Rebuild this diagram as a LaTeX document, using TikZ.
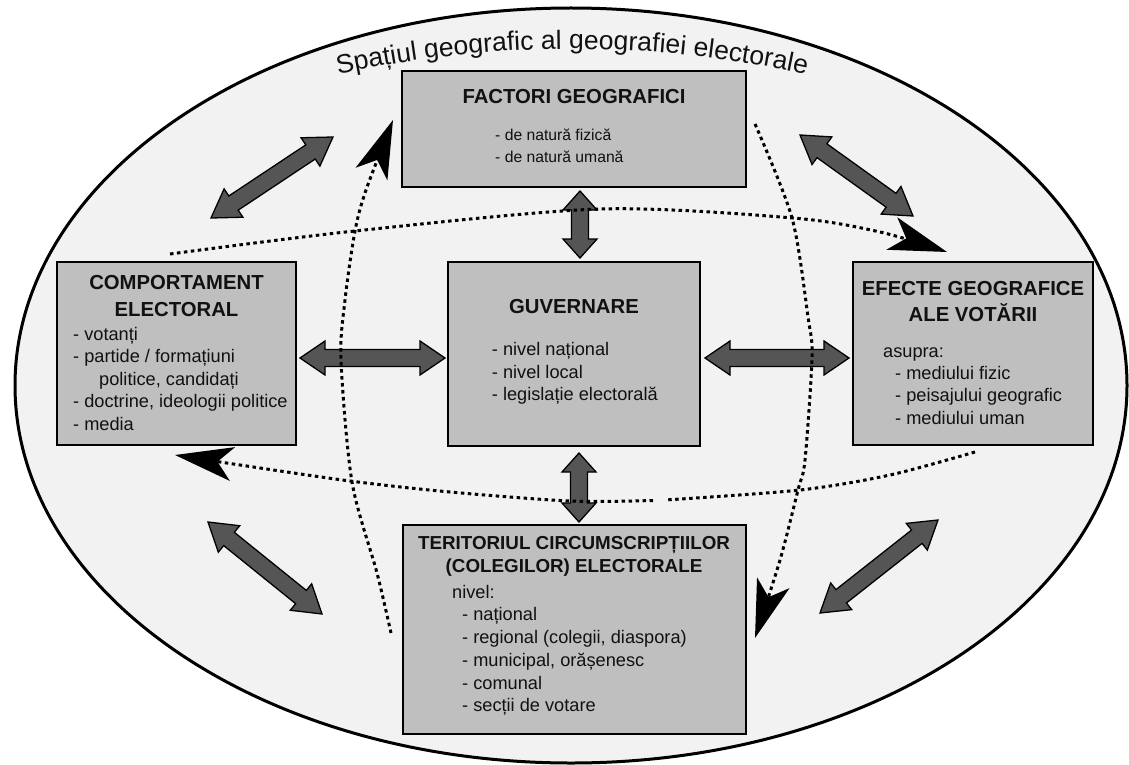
\documentclass[tikz,border=0pt]{standalone}
\usepackage{fontspec}
\setmainfont{Liberation Sans}
\usetikzlibrary{calc,arrows.meta,decorations.text}

\definecolor{ellfill}{HTML}{F2F2F2}
\definecolor{boxfill}{HTML}{BFBFBF}
\definecolor{arrfill}{HTML}{555555}
\definecolor{txt}{HTML}{111111}

\newcommand\dblarr[3]{%
  \filldraw[bigarrow] (#1) -- ($(#1)!#3!(#2)!17pt!90:(#2)$) -- ($(#1)!#3!(#2)!8.5pt!90:(#2)$)
   -- ($(#2)!#3!(#1)!8.5pt!-90:(#1)$) -- ($(#2)!#3!(#1)!17pt!-90:(#1)$) -- (#2)
   -- ($(#2)!#3!(#1)!17pt!90:(#1)$) -- ($(#2)!#3!(#1)!8.5pt!90:(#1)$)
   -- ($(#1)!#3!(#2)!8.5pt!-90:(#2)$) -- ($(#1)!#3!(#2)!17pt!-90:(#2)$) -- cycle;}

\begin{document}
\begin{tikzpicture}[x=1pt,y=-1pt,
  box/.style={draw=black, line width=1.8pt, fill=boxfill, inner sep=0pt, outer sep=0pt},
  ttl/.style={font=\bfseries\fontsize{20.3}{26.7}\selectfont, inner sep=0pt, align=center, text=txt},
  bdy/.style={font=\fontsize{18.2}{22.4}\selectfont, inner sep=0pt, align=left, text=txt},
  bigarrow/.style={fill=arrfill, draw=black, line width=1.3pt, line join=miter},
  dotline/.style={line width=3pt, dash pattern=on 3.5pt off 3.5pt, draw=black},
  headed/.style={-{Stealth[length=58pt,width=34pt,inset=15pt]}}
]
\useasboundingbox (0,0) rectangle (1129,765);
\fill[white] (0,0) rectangle (1129,765);
\draw[line width=3pt, fill=ellfill] (571,385.5) ellipse [x radius=556pt, y radius=377.5pt];

% boxes
\node[box, minimum width=344pt, minimum height=116pt] (fac) at (574,129) {};
\node[box, minimum width=239pt, minimum height=183pt] (com) at (176.5,353.5) {};
\node[box, minimum width=252pt, minimum height=184pt] (guv) at (574,354) {};
\node[box, minimum width=240pt, minimum height=183pt] (efe) at (973,353.5) {};
\node[box, minimum width=343pt, minimum height=209pt] (ter) at (574.5,629.5) {};

% texts (base anchor = baseline of the last line)
\node[ttl, anchor=base] (facT) at (574,104) {FACTORI GEOGRAFICI};
\node[bdy, anchor=base west, font=\fontsize{15.7}{22}\selectfont] (facB) at (495,162) {- de natură fizică\\- de natură umană};

\node[ttl, anchor=base] (comT) at (176.5,316) {COMPORTAMENT\\ELECTORAL};
\node[bdy, anchor=base west] (comB) at (73,430) {- votanți\\- partide / formațiuni\\\hspace*{26pt}politice, candidați\\- doctrine, ideologii politice\\- media};

\node[ttl, anchor=base] (guvT) at (574,313) {GUVERNARE};
\node[bdy, anchor=base west] (guvB) at (491.7,400.7) {- nivel național\\- nivel local\\- legislație electorală};

\node[ttl, anchor=base] (efeT) at (973,321.7) {EFECTE GEOGRAFICE\\ALE VOTĂRII};
\node[bdy, anchor=base west] (efeA) at (883,357) {asupra:};
\node[bdy, anchor=base west] (efeB) at (895,424) {- mediului fizic\\- peisajului geografic\\- mediului uman};

\node[ttl, anchor=base, font=\bfseries\fontsize{18.8}{23.7}\selectfont] (terT) at (574,572.7) {TERITORIUL CIRCUMSCRIPȚIILOR\\(COLEGILOR) ELECTORALE};
\node[bdy, anchor=base west] (terA) at (452,598) {nivel:};
\node[bdy, anchor=base west, font=\fontsize{18.2}{22.7}\selectfont] (terB) at (462,711.7) {- național\\- regional (colegii, diaspora)\\- municipal, orășenesc\\- comunal\\- secții de votare};

% double arrows
\coordinate (v1a) at (580,191); \coordinate (v1b) at (580,258);
\coordinate (v2a) at (579,453); \coordinate (v2b) at (579,522);
\coordinate (h1a) at (300,358); \coordinate (h1b) at (445,358);
\coordinate (h2a) at (705,358); \coordinate (h2b) at (849,358);
\coordinate (d1a) at (211,218); \coordinate (d1b) at (333,137);
\coordinate (d2a) at (800,135); \coordinate (d2b) at (913,216);
\coordinate (d3a) at (208,522); \coordinate (d3b) at (322,614);
\coordinate (d4a) at (820,613); \coordinate (d4b) at (938,520);
\dblarr{v1a}{v1b}{19pt}
\dblarr{v2a}{v2b}{19pt}
\dblarr{h1a}{h1b}{25pt}
\dblarr{h2a}{h2b}{25pt}
\dblarr{d1a}{d1b}{27pt}
\dblarr{d2a}{d2b}{27pt}
\dblarr{d3a}{d3b}{27pt}
\dblarr{d4a}{d4b}{27pt}

% dotted circulation
\coordinate (c1s) at (170,254); \coordinate (c1e) at (947,252);
\coordinate (c2s) at (975,452); \coordinate (c2m) at (665,500); \coordinate (c2n) at (653,500.5); \coordinate (c2e) at (175,455);
\coordinate (c3s) at (391,633); \coordinate (c3e) at (393,120);
\coordinate (c4s) at (755,124); \coordinate (c4e) at (755,638);
\draw[dotline, headed] plot[smooth] coordinates {(c1s) (355,231) (600,209) (793,218) (880,232) (c1e)};
\draw[dotline] plot[smooth] coordinates {(c2s) (890,475) (800,490) (c2m)};
\draw[dotline, headed] plot[smooth] coordinates {(c2n) (570,501) (450,492) (350,481) (240,465) (c2e)};
\draw[dotline, headed] plot[smooth] coordinates {(c3s) (377,573) (352,482) (341,360) (345,300) (355,231) (366,190) (c3e)};
\draw[dotline, headed] plot[smooth] coordinates {(c4s) (792,218) (808,317) (812,357) (805,460) (798,490) (780,560) (c4e)};

% title along the arc
\path[decorate, decoration={text along path, text align=center,
  text={|\fontsize{26.5}{30}\selectfont\color{txt}|Spațiul geografic al geografiei electorale}}]
  (320,78.4) .. controls (488,39.2) and (656,39.2) .. (824,78.4);
\end{tikzpicture}
\end{document}
